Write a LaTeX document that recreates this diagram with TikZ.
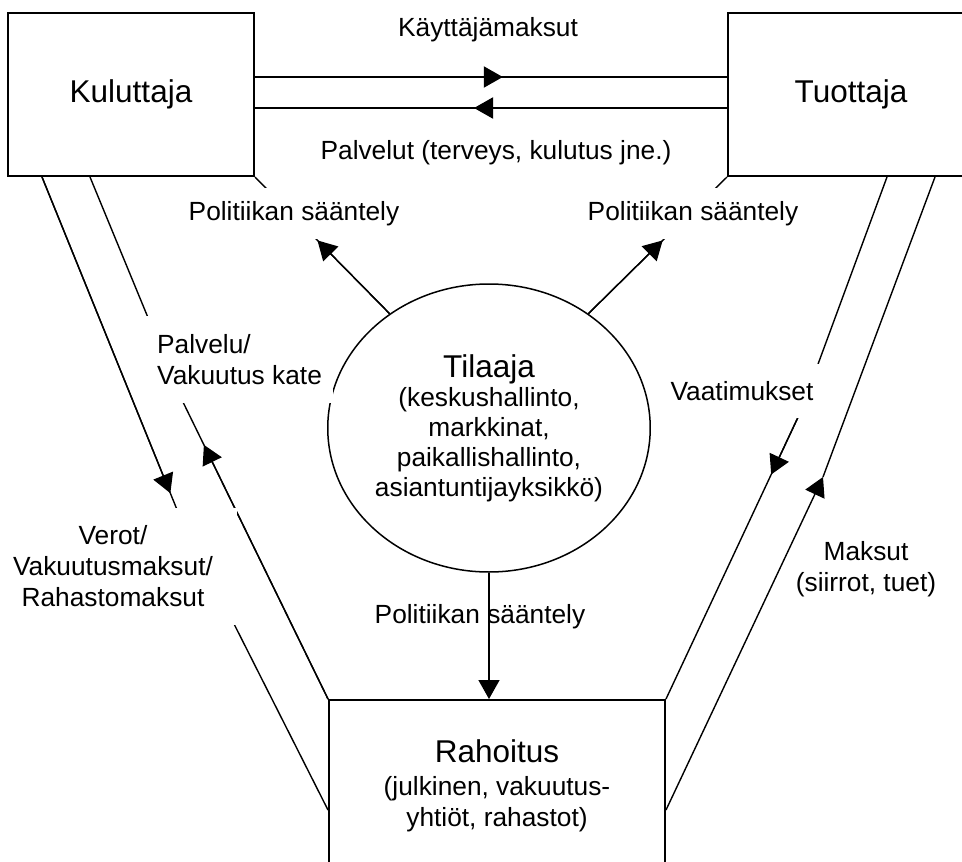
\documentclass[tikz,border=0pt]{standalone}
\usepackage{fontspec}
\setmainfont{Liberation Sans}
\usetikzlibrary{shapes.geometric,arrows.meta,calc,decorations.markings}
\newcommand{\bigtxt}{\fontsize{31.5pt}{35pt}\selectfont}
\newcommand{\smalltxt}{\fontsize{26.3pt}{31pt}\selectfont}

\begin{document}
\begin{tikzpicture}[x=1pt,y=-1pt,
    box/.style={draw,line width=2pt,minimum width=246pt,minimum height=163pt,font=\bigtxt},
    txt/.style={align=center,font=\smalltxt,inner sep=0pt},
    mask/.style={txt,fill=white},
    flow/.style={line width=1.4pt},
    tip/.style={-{Triangle[length=19pt,width=21pt]}},
    mid tip/.style={postaction={decorate},decoration={markings,
      mark=at position #1 with {\arrow{Triangle[length=19pt,width=21pt]}}}}]
  \useasboundingbox (0,0) rectangle (962,862);
  % toimijat
  \node[box] (kul) at (131,94.5) {Kuluttaja};
  \node[box] (tuo) at (851,94.5) {Tuottaja};
  \node[box,minimum width=336pt,minimum height=172pt,align=center,font=\smalltxt] (rah) at (497,786)
    {{\bigtxt Rahoitus}\\[2pt](julkinen, vakuutus-\\yhtiöt, rahastot)};
  \node[draw,ellipse,line width=1.5pt,minimum width=322pt,minimum height=288pt,inner sep=0pt,
    align=center,font=\fontsize{26.3pt}{29.7pt}\selectfont] (til) at (489,428)
    {{\bigtxt Tilaaja}\\(keskushallinto,\\markkinat,\\paikallishallinto,\\asiantuntijayksikkö)};
  % taitekohdat
  \coordinate (kLO) at (180,517);
  \coordinate (kLI) at (182,400);
  \coordinate (kRI) at (800,413);
  \coordinate (kRO) at (823,477);
  % Kuluttaja - Tuottaja
  \draw[line width=2pt,mid tip=0.525] ([yshift=17.5pt]kul.east) -- ([yshift=17.5pt]tuo.west);
  \draw[line width=2pt,mid tip=0.536] ([yshift=-13.5pt]tuo.west) -- ([yshift=-13.5pt]kul.east);
  % sivut
  \draw[flow] ([xshift=35pt]kul.south west) coordinate (lo) -- (kLO) -- ([yshift=-24pt]rah.west);
  \draw[flow,tip] (lo) -- ($(lo)!0.93!(kLO)$);
  \draw[flow] ([xshift=83pt]kul.south west) -- (kLI) -- (rah.north west);
  \draw[flow,tip] (rah.north west) -- ($(rah.north west)!0.85!(kLI)$);
  \draw[flow] ([xshift=160pt]tuo.south west) -- (kRI) -- (rah.north east);
  \draw[flow,tip] (kRI) -- ($(kRI)!0.215!(rah.north east)$);
  \draw[flow] ([xshift=208pt]tuo.south west) -- (kRO);
  \draw[flow,tip] ([yshift=-24pt]rah.east) -- (kRO);
  % Tilaaja
  \draw[flow] (kul.south east) -- (til.131);
  \draw[flow,tip] (til.131) -- ($(til.131)!0.536!(kul.south east)$);
  \draw[flow] (tuo.south west) -- (til.49);
  \draw[flow,tip] (til.49) -- ($(til.49)!0.536!(tuo.south west)$);
  \draw[flow,tip] (til.south) -- (til.south |- rah.north);
  % tekstit
  \node[txt] (kaytto) at (488,30) {Käyttäjämaksut};
  \node[txt] (palvelut) at (496,153) {Palvelut (terveys, kulutus jne.)};
  \node[mask,minimum width=222pt,minimum height=51pt] (pol1) at (294,213.5) {Politiikan sääntely};
  \node[mask,minimum width=222pt,minimum height=51pt] (pol2) at (693,213.5) {Politiikan sääntely};
  \node[mask,align=left,anchor=west,inner xsep=11pt,minimum height=87pt] (palv) at (146,359.5) {Palvelu/\\Vakuutus kate};
  \node[mask,minimum width=156pt,minimum height=54pt] (vaat) at (742,391) {Vaatimukset};
  \node[mask,minimum width=248pt,minimum height=117pt] (verot) at (113,566.5) {Verot/\\Vakuutusmaksut/\\Rahastomaksut};
  \node[txt] (maks) at (866,569) {Maksut\\(siirrot, tuet)};
  \node[txt] (pol3) at (480,617) {Politiikan sääntely};
\end{tikzpicture}
\end{document}
